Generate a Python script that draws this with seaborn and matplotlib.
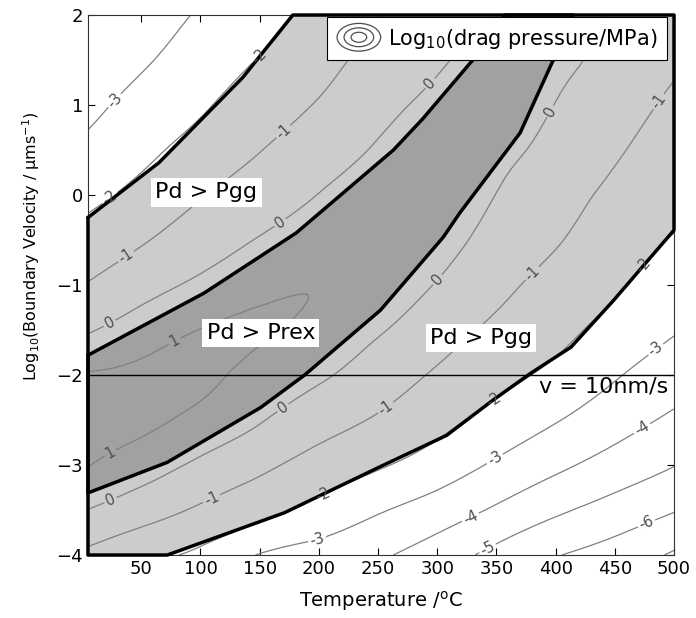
import numpy as np
import matplotlib
matplotlib.use("Agg")
import matplotlib.pyplot as plt
import matplotlib.tri as mtri
from matplotlib.legend_handler import HandlerBase
from matplotlib.patches import Ellipse
import seaborn as sns

# grid the drag pressure was read on
temps = [5, 50, 100, 150, 200, 250, 300, 350, 400, 450, 500]
log_v = [-4, -3.5, -3, -2.5, -2, -1.5, -1, -0.5, 0, 0.5, 1, 1.5, 2]

# log10(drag pressure / MPa) at each log_v, one list per temperature
drag_T5 = [-1.22, -0.02, 1.03, 1.35, 1.07, -0.10, -0.95, -1.63, -2.24, -2.79, -3.22, -3.55, -3.88]
drag_T50 = [-1.72, -0.57, 0.49, 1.20, 1.20, 0.49, -0.37, -1.10, -1.73, -2.25, -2.70, -3.13, -3.55]
drag_T100 = [-2.23, -1.13, -0.19, 0.73, 1.21, 1.02, 0.19, -0.46, -1.07, -1.63, -2.13, -2.51, -2.89]
drag_T150 = [-3.05, -1.69, -0.79, 0.07, 0.66, 1.10, 0.71, 0.05, -0.49, -1.03, -1.50, -1.96, -2.34]
drag_T200 = [-3.40, -2.30, -1.37, -0.58, 0.14, 0.72, 0.97, 0.55, 0.02, -0.46, -0.93, -1.33, -1.72]
drag_T250 = [-3.85, -2.90, -1.89, -1.10, -0.49, 0.10, 0.66, 0.90, 0.62, 0.12, -0.31, -0.69, -1.06]
drag_T300 = [-4.49, -3.46, -2.46, -1.70, -1.12, -0.58, -0.06, 0.47, 0.80, 0.74, 0.33, -0.14, -0.50]
drag_T350 = [-5.30, -4.14, -3.14, -2.33, -1.70, -1.19, -0.76, -0.39, -0.02, 0.40, 0.78, 0.45, -0.01]
drag_T400 = [-5.95, -4.83, -3.79, -2.94, -2.23, -1.72, -1.31, -0.93, -0.66, -0.36, -0.03, 0.32, 0.58]
drag_T450 = [-6.43, -5.39, -4.40, -3.58, -2.91, -2.34, -1.87, -1.53, -1.20, -0.90, -0.66, -0.41, -0.17]
drag_T500 = [-7.13, -5.94, -4.97, -4.17, -3.52, -2.93, -2.50, -2.06, -1.74, -1.45, -1.15, -0.89, -0.67]

levels = [-7, -6, -5, -4, -3, -2, -1, 0, 1]

# Pd > Pgg region outline (temperature, log velocity)
pgg_T = [5, 65, 136, 178, 500, 500, 449, 413, 379, 347, 308, 250, 171, 150, 72, 5, 5]
pgg_v = [-0.25, 0.36, 1.31, 2.0, 2.0, -0.39, -1.17, -1.69, -1.98, -2.28, -2.67, -3.03, -3.53, -3.63, -4.0, -4.0, -0.25]

# Pd > Prex region outline
prex_T = [5, 103, 181, 263, 288, 330, 357, 415, 398, 370, 319, 305, 252, 188, 151, 72, 5, 5]
prex_v = [-1.78, -1.09, -0.42, 0.5, 0.85, 1.5, 2.0, 2.0, 1.5, 0.69, -0.2, -0.47, -1.28, -2.0, -2.36, -2.97, -3.31, -1.78]

# where the contour labels sit
label_spots = [(30, 1.02), (25, -0.06), (150, 1.53), (38, -0.7), (171, 0.69),
               (24, -1.44), (167, -0.3), (294, 1.24), (79, -1.64), (25, -2.89),
               (25, -3.42), (172, -2.41), (300, -0.94), (394, 0.94),
               (110, -3.39), (258, -2.39), (384, -0.92), (489, 1.02),
               (205, -3.37), (349, -2.3), (476, -0.8),
               (198, -3.8), (349, -2.94), (486, -1.74),
               (328, -3.58), (475, -2.64), (342, -3.91), (478, -3.69)]

v_ref = 10e-3  # 10 nm/s in um/s

sns.set_style("ticks")
plt.rcParams.update({
    "font.family": ["DejaVu Sans"],
    "text.color": "black",
    "axes.labelcolor": "black",
    "axes.edgecolor": "0.2",
    "xtick.color": "black",
    "ytick.color": "black",
    "xtick.direction": "in",
    "ytick.direction": "in",
    "xtick.top": True,
    "ytick.right": True,
    "xtick.major.size": 5,
    "ytick.major.size": 5,
    "contour.negative_linestyle": "solid",
})

fig = plt.figure(figsize=(6.96, 6.18), dpi=100)
ax = fig.add_axes([0.1264, 0.1019, 0.842, 0.8738])

# filled regions
ax.fill(pgg_T, pgg_v, color="0.8", lw=0, zorder=1)
ax.fill(prex_T, prex_v, color="0.63", lw=0, zorder=1)

# drag pressure contours
Z = np.column_stack([drag_T5, drag_T50, drag_T100, drag_T150, drag_T200, drag_T250,
                     drag_T300, drag_T350, drag_T400, drag_T450, drag_T500])
TT, VV = np.meshgrid(temps, log_v)
nx, ny = len(temps), len(log_v)
tris = []
for j in range(ny - 1):
    for i in range(nx - 1):
        a = j * nx + i
        tris.append([a, a + 1, a + nx + 1])
        tris.append([a, a + nx + 1, a + nx])
tri = mtri.Triangulation(TT.ravel() / 100.0, VV.ravel(), np.array(tris))
interp = mtri.CubicTriInterpolator(tri, Z.ravel(), kind="min_E")
tri_f, z_f = mtri.UniformTriRefiner(tri).refine_field(Z.ravel(), triinterpolator=interp, subdiv=3)
tri_plot = mtri.Triangulation(tri_f.x * 100.0, tri_f.y, tri_f.triangles)
cs = ax.tricontour(tri_plot, z_f, levels=levels, colors="0.5", linewidths=0.9,
                   linestyles="solid", zorder=2)
ax.clabel(cs, fmt="%d", fontsize=10.5, colors="0.3", manual=label_spots, inline_spacing=2)

# region outlines
sns.lineplot(x=pgg_T, y=pgg_v, sort=False, estimator=None, color="black", lw=2.5, ax=ax, zorder=3)
sns.lineplot(x=prex_T, y=prex_v, sort=False, estimator=None, color="black", lw=2.5, ax=ax, zorder=3)
for ln in ax.lines[-2:]:
    ln.set_clip_on(False)

ax.axhline(np.log10(v_ref), color="black", lw=1, zorder=3)

box = dict(facecolor="white", edgecolor="none", pad=3)
ax.text(105, 0.03, "Pd > Pgg", ha="center", va="center", fontsize=16, bbox=box, zorder=5)
ax.text(151, -1.53, "Pd > Prex", ha="center", va="center", fontsize=16, bbox=box, zorder=5)
ax.text(337, -1.59, "Pd > Pgg", ha="center", va="center", fontsize=16, bbox=box, zorder=5)
ax.text(495, -2.13, "v = 10nm/s", ha="right", va="center", fontsize=16, zorder=5)


class Rings:
    pass


class RingHandler(HandlerBase):
    def create_artists(self, legend, orig_handle, xdescent, ydescent, width, height, fontsize, trans):
        cx = width / 2 - xdescent
        cy = height / 2 - ydescent
        out = []
        for s in (1.0, 0.68, 0.36):
            out.append(Ellipse((cx, cy), width * 0.95 * s, height * 1.9 * s, fill=False,
                               edgecolor="0.3", lw=0.9, transform=trans))
        return out


leg = ax.legend([Rings()], [r"Log$_{10}$(drag pressure/MPa)"], handler_map={Rings: RingHandler()},
                loc="upper right", bbox_to_anchor=(0.988, 0.996), borderaxespad=0, fontsize=15,
                frameon=True, fancybox=False, framealpha=1, edgecolor="black", handlelength=2.2,
                handletextpad=0.3, borderpad=0.45)
leg.set_zorder(6)
leg.get_frame().set_linewidth(0.8)

ax.set_xlim(5, 500)
ax.set_ylim(-4, 2)
ax.set_xticks([50, 100, 150, 200, 250, 300, 350, 400, 450, 500])
ax.set_yticks([-4, -3, -2, -1, 0, 1, 2])
ax.tick_params(labelsize=13)
ax.set_xlabel(r"Temperature /$^{\mathrm{o}}$C", fontsize=14, labelpad=8)
ax.set_ylabel(r"Log$_{10}$(Boundary Velocity / μms$^{-1}$)", fontsize=11.5)
ax.yaxis.set_label_coords(-0.078, 0.572)

fig.savefig("out.png", dpi=100)
